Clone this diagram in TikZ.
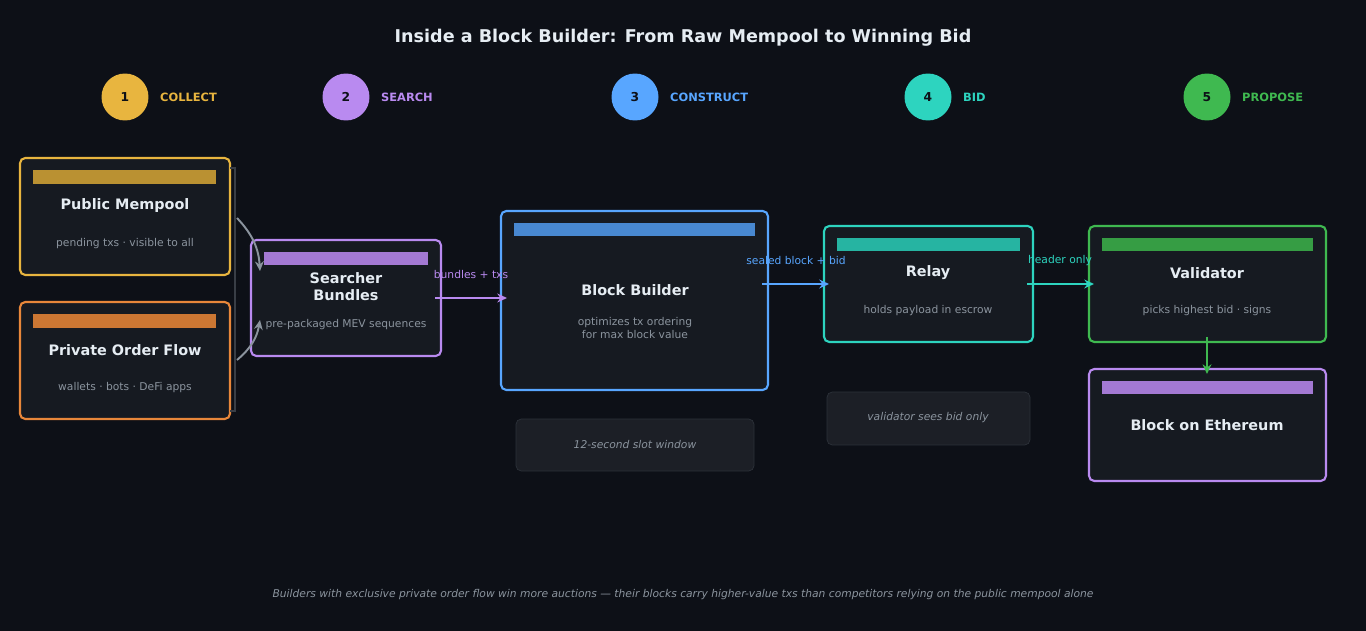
\documentclass[tikz,border=0pt]{standalone}
\usepackage{fontspec}
\setmainfont{DejaVu Sans}
\usetikzlibrary{arrows.meta}
\definecolor{bg}{HTML}{0D1017}
\definecolor{card}{HTML}{161A21}
\definecolor{note}{HTML}{1C1F26}
\definecolor{ink}{HTML}{E6EDF3}
\definecolor{dim}{HTML}{8B949E}
\definecolor{cyel}{HTML}{E8B53F}
\definecolor{corg}{HTML}{E8873A}
\definecolor{cpur}{HTML}{B98AF0}
\definecolor{cblu}{HTML}{58A6FF}
\definecolor{ctea}{HTML}{2DD4BF}
\definecolor{cgrn}{HTML}{3FB950}
\tikzset{
  card/.style={draw=#1, fill=card, line width=1.2pt, rounded corners=3pt},
  bar/.style={fill=#1, draw=none},
  ttl/.style={text=ink, font=\bfseries\fontsize{8.2}{9.8}\selectfont, align=center},
  sub/.style={text=dim, font=\fontsize{6.1}{7.3}\selectfont, align=center},
  lbl/.style={font=\fontsize{6.1}{7}\selectfont, text=#1},
  flow/.style={-{Stealth[length=5.5pt,width=5pt]}, line width=1.1pt, draw=#1},
  step/.style={circle, fill=#1, minimum size=0.94cm, inner sep=0pt, text=bg, font=\bfseries\fontsize{7}{8}\selectfont},
}
\begin{document}
\begin{tikzpicture}[x=0.02cm, y=-0.02cm]
\fill[bg] (0,0) rectangle (1366,631);
\useasboundingbox (0,0) rectangle (1366,631);

\node[text=ink, font=\bfseries\fontsize{10}{12}\selectfont] (title) at (683,38) {Inside a Block Builder: From Raw Mempool to Winning Bid};

% steps
\foreach \x/\n/\c/\t in {125/1/cyel/COLLECT, 346/2/cpur/SEARCH, 635/3/cblu/CONSTRUCT, 928/4/ctea/BID, 1207/5/cgrn/PROPOSE}{
  \node[step=\c] (s\n) at (\x,97) {\n};
  \node[anchor=west, text=\c, font=\bfseries\fontsize{6.5}{8}\selectfont] at (\x+29,97) {\t};
}

% cards
\draw[card=cyel] (20,158) rectangle (230,275);
\fill[bar={cyel!80!black}] (33,170) rectangle (216,184);
\node[ttl] (pub) at (125,206) {Public Mempool};
\node[sub] at (125,244) {pending txs · visible to all};

\draw[card=corg] (20,302) rectangle (230,419);
\fill[bar={corg!88!black}] (33,314) rectangle (216,328);
\node[ttl] (pof) at (125,350) {Private Order Flow};
\node[sub] at (125,388) {wallets · bots · DeFi apps};

\draw[dim!35!bg, line width=0.6pt] (230,168) -- (235,168) -- (235,411) -- (230,411);

\draw[card=cpur] (251,240) rectangle (441,356);
\fill[bar={cpur!88!black}] (264,252) rectangle (428,265);
\node[ttl] (srch) at (346,287) {Searcher\\Bundles};
\node[sub] at (346,325) {pre-packaged MEV sequences};

\draw[card=cblu] (501,211) rectangle (768,390);
\fill[bar={cblu!82!black}] (514,223) rectangle (755,236);
\node[ttl] (bld) at (635,290) {Block Builder};
\node[sub] at (635,328) {optimizes tx ordering\\for max block value};

\draw[card=ctea] (824,226) rectangle (1033,342);
\fill[bar={ctea!85!black}] (837,238) rectangle (1020,251);
\node[ttl] (rly) at (928,273) {Relay};
\node[sub] at (928,311) {holds payload in escrow};

\draw[card=cgrn] (1089,226) rectangle (1326,342);
\fill[bar={cgrn!85!black}] (1102,238) rectangle (1313,251);
\node[ttl] (val) at (1207,273) {Validator};
\node[sub] at (1207,311) {picks highest bid · signs};

\draw[card=cpur] (1089,369) rectangle (1326,481);
\fill[bar={cpur!88!black}] (1102,381) rectangle (1313,394);
\node[ttl] (eth) at (1207,425) {Block on Ethereum};

% notes
\draw[fill=note, draw=dim!25!bg, rounded corners=3pt] (516,419) rectangle (754,471);
\node[sub, font=\itshape\fontsize{6.1}{7}\selectfont] (slot) at (635,445) {12-second slot window};
\draw[fill=note, draw=dim!25!bg, rounded corners=3pt] (827,392) rectangle (1030,445);
\node[sub, font=\itshape\fontsize{6.1}{7}\selectfont] (seen) at (928,418) {validator sees bid only};

% connectors
\coordinate (pubR) at (237,218);
\coordinate (pofR) at (237,360);
\coordinate (srchT) at (260,271);
\coordinate (srchB) at (260,320);
\draw[flow=dim] (pubR) to[bend left=20] (srchT);
\draw[flow=dim] (pofR) to[bend right=20] (srchB);
\coordinate (srchR) at (435,298);
\coordinate (bldL) at (507,298);
\draw[flow=cpur] (srchR) -- (bldL);
\node[lbl=cpur] at (471,275) {bundles + txs};
\coordinate (bldR) at (762,284);
\coordinate (rlyL) at (829,284);
\draw[flow=cblu] (bldR) -- (rlyL);
\node[lbl=cblu] at (796,261) {sealed block + bid};
\coordinate (rlyR) at (1027,284);
\coordinate (valL) at (1094,284);
\draw[flow=ctea] (rlyR) -- (valL);
\node[lbl=ctea] at (1060,261) {header only};
\coordinate (valB) at (1207,337);
\coordinate (ethT) at (1207,374);
\draw[flow=cgrn] (valB) -- (ethT);

\node[sub, font=\itshape\fontsize{6.1}{7}\selectfont] (foot) at (683,595) {Builders with exclusive private order flow win more auctions — their blocks carry higher-value txs than competitors relying on the public mempool alone};
\end{tikzpicture}
\end{document}
